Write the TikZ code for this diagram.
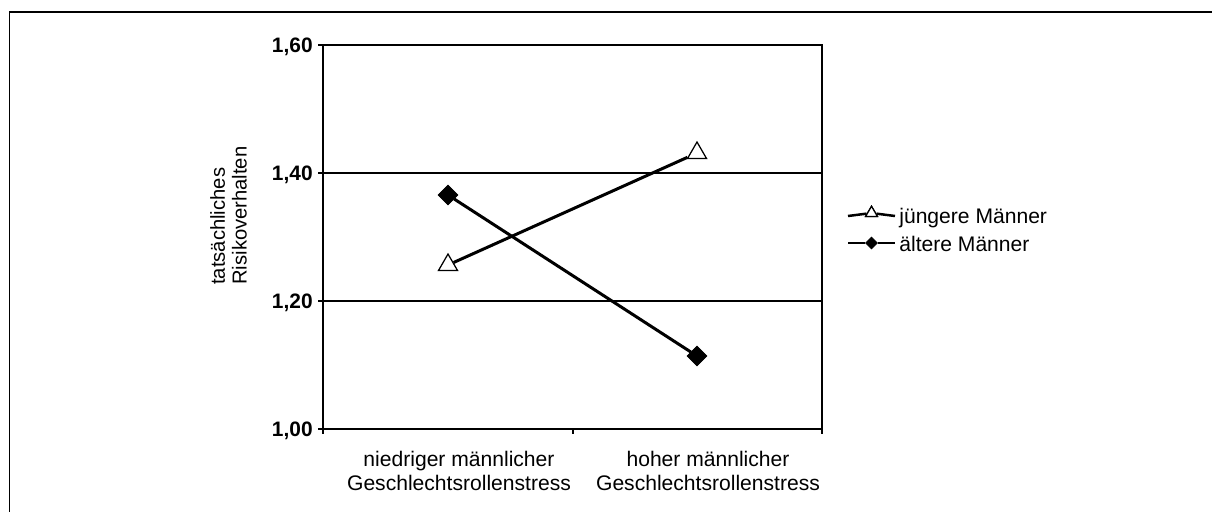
\documentclass[tikz,border=0pt]{standalone}
\usepackage{fontspec}
\setmainfont{Liberation Sans}
\usetikzlibrary{positioning,shapes.geometric}

\begin{document}
\begin{tikzpicture}[x=0.02cm, y=-0.02cm,
    every node/.style={font=\fontsize{12}{13.6}\selectfont, inner sep=0pt},
    tri/.style={regular polygon, regular polygon sides=3, draw, fill=white, line width=0.025cm, minimum size=0.44cm},
    dia/.style={diamond, draw, fill=black, minimum size=0.4cm},
    trileg/.style={tri, minimum size=0.27cm},
    dialeg/.style={dia, minimum size=0.24cm},
    ticklab/.style={font=\fontsize{11.9}{14.7}\selectfont\bfseries, anchor=base east},
    serie/.style={line width=0.06cm},
    asse/.style={line width=0.04cm}]
      \useasboundingbox (0,0) rectangle (1212,511);
      \clip (0,0) rectangle (1212,511);

      % Cornice
      \draw[asse] (9.5,600) -- (9.5,12) -- (1300,12);

      % Area del grafico
      \draw[asse] (323,429) -- (323,45) -- (822,45) -- (822,429) -- cycle;
      \draw[asse] (323,173) -- (822,173);
      \draw[asse] (323,301) -- (822,301);
      \draw[asse] (318,45) -- (323,45);
      \draw[asse] (318,173) -- (323,173);
      \draw[asse] (318,301) -- (323,301);
      \draw[asse] (318,429) -- (323,429);
      \draw[asse] (323,429) -- (323,434);
      \draw[asse] (572.5,429) -- (572.5,434);
      \draw[asse] (822,429) -- (822,434);

      % Etichette degli assi
      \node[ticklab] (t160) at (313,52.4) {1,60};
      \node[ticklab] (t140) at (313,180.4) {1,40};
      \node[ticklab] (t120) at (313,308.4) {1,20};
      \node[ticklab] (t100) at (313,436.4) {1,00};
      \node[rotate=90, align=left, anchor=west, font=\fontsize{11.5}{12.3}\selectfont] (ylab) at (228.5,285) {tatsächliches\\Risikoverhalten};
      \node[align=center, anchor=north] (niedrig) at (459,450.5) {niedriger männlicher\\Geschlechtsrollenstress};
      \node[align=center, anchor=north] (hoch) at (708,450.5) {hoher männlicher\\Geschlechtsrollenstress};

      % Serie di dati
      \node[tri] (j1) at (448,265) {};
      \node[tri] (j2) at (697,153) {};
      \node[dia] (a1) at (448,195) {};
      \node[dia] (a2) at (697,356) {};
      \draw[serie] (j1) -- (j2);
      \draw[serie] (a1) -- (a2);

      % Legenda
      \coordinate (lj1) at (848,216);
      \coordinate (lj2) at (895,216);
      \node[trileg] (ljm) at (871.5,213) {};
      \draw[serie, line width=0.05cm] (lj1) -- (ljm) -- (lj2);
      \node[trileg] at (ljm) {};
      \node[anchor=base west] (ljt) at (899,223) {jüngere Männer};

      \coordinate (la1) at (848,243);
      \coordinate (la2) at (895,243);
      \node[dialeg] (lam) at (871.5,243) {};
      \draw[serie, line width=0.05cm] (la1) -- (lam) -- (la2);
      \node[anchor=base west] (lat) at (899,251) {ältere Männer};
    \end{tikzpicture}
\end{document}
